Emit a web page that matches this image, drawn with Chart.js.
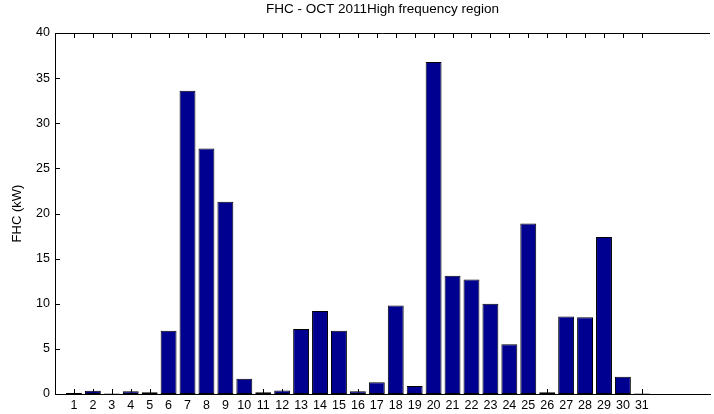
<!DOCTYPE html>
<html>
<head>
<meta charset="utf-8">
<script src="https://cdn.jsdelivr.net/npm/chart.js@4"></script>
<style>
  body { margin: 0; background: #fff; }
  canvas { display: block; }
</style>
</head>
<body>
<canvas id="myChart" width="714" height="414"></canvas>
<script>
// days of october and FHC values (kW)
var days = [1, 2, 3, 4, 5, 6, 7, 8, 9, 10, 11, 12, 13, 14, 15, 16,
            17, 18, 19, 20, 21, 22, 23, 24, 25, 26, 27, 28, 29, 30, 31];
var fhc = [0.1, 0.35, 0.05, 0.3, 0.2, 7.0, 33.6, 27.2, 21.3, 1.7, 0.2, 0.4, 7.2, 9.2, 7.0, 0.3,
           1.3, 9.8, 0.9, 36.8, 13.1, 12.7, 10.0, 5.5, 18.9, 0.2, 8.6, 8.5, 17.4, 1.9, 0.05];
var yTicks = [0, 5, 10, 15, 20, 25, 30, 35, 40];

var points = days.map(function (d, i) { return { x: d, y: fhc[i] }; });
var font = { family: 'Liberation Sans, Arial, sans-serif', size: 13, weight: 'normal' };
var tickFont = { family: 'Liberation Sans, Arial, sans-serif', size: 12.5, weight: 'normal' };

// matlab style inward ticks + top border
var innerTicks = {
  id: 'innerTicks',
  beforeDatasetsDraw: function (chart) {
    var c = chart.ctx, a = chart.chartArea;
    var xs = chart.scales.x, ys = chart.scales.y;
    c.save();
    c.strokeStyle = '#000';
    c.lineWidth = 1;
    c.beginPath();
    days.forEach(function (d) {
      var px = Math.round(xs.getPixelForValue(d)) + 0.5;
      c.moveTo(px, a.bottom); c.lineTo(px, a.bottom - 5);
      c.moveTo(px, a.top); c.lineTo(px, a.top + 5);
    });
    yTicks.forEach(function (v) {
      var py = Math.round(ys.getPixelForValue(v)) + 0.5;
      c.moveTo(a.left, py); c.lineTo(a.left + 5, py);
    });
    c.stroke();
    c.beginPath();
    c.moveTo(a.left, Math.round(a.top) + 0.5);
    c.lineTo(a.right, Math.round(a.top) + 0.5);
    c.stroke();
    c.restore();
  }
};

var ctx = document.getElementById('myChart').getContext('2d');
var myChart = new Chart(ctx, {
  type: 'bar',
  data: {
    datasets: [{
      label: 'FHC',
      data: points,
      backgroundColor: '#000090',
      borderColor: '#000',
      borderWidth: 1,
      borderSkipped: false,
      categoryPercentage: 1,
      barPercentage: 0.84
    }]
  },
  options: {
    responsive: false,
    animation: false,
    layout: { padding: 0 },
    plugins: {
      legend: { display: false },
      tooltip: { enabled: false },
      title: {
        display: true,
        fullSize: false,
        text: 'FHC - OCT 2011High frequency region',
        color: '#000',
        font: { family: 'Liberation Sans, Arial, sans-serif', size: 13.5, weight: 'normal' },
        padding: { top: 1, bottom: 15.8 }
      }
    },
    scales: {
      x: {
        type: 'linear',
        offset: false,
        min: 0,
        max: 34.6,
        grid: { display: false, drawTicks: false, tickLength: 0 },
        border: { display: true, color: '#000', width: 1 },
        ticks: {
          stepSize: 1,
          autoSkip: false,
          maxRotation: 0,
          padding: 4,
          color: '#000',
          font: tickFont,
          callback: function (v) {
            return days.indexOf(v) >= 0 ? String(v) : '';
          }
        },
        afterFit: function (s) { s.height = 20; }
      },
      y: {
        min: 0,
        max: 40,
        grid: { display: false, drawTicks: false, tickLength: 0 },
        border: { display: true, color: '#000', width: 1 },
        ticks: {
          stepSize: 5,
          padding: 5,
          color: '#000',
          font: tickFont
        },
        title: {
          display: true,
          text: 'FHC (kW)',
          color: '#000',
          font: font,
          padding: { top: 10, bottom: 0 }
        },
        afterFit: function (s) { s.width = 55; }
      }
    }
  },
  plugins: [innerTicks]
});
</script>
</body>
</html>
